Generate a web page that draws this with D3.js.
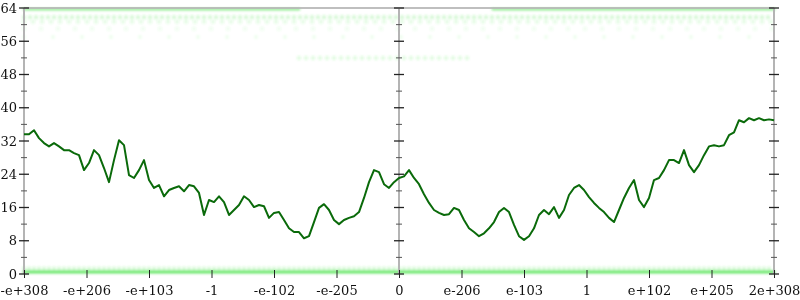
<!DOCTYPE html>
<html lang="en">
  <head>
    <meta charset="UTF-8" />
    <script src="https://d3js.org/d3.v7.min.js"></script>
    <style>
      body { margin: 0; background: #fff; }
      svg { display: block; }
      .tick text { font-family: "DejaVu Serif", serif; font-size: 13px; fill: #111; }
    </style>
  </head>
  <body>
    <div id="chart"></div>
    <script>
      // x labels (float64 bit-ordered axis), one per unit from -6 to 6
      var xLabels = ["-e+308", "-e+206", "-e+103", "-1", "-e-102", "-e-205", "0",
                     "e-206", "e-103", "1", "e+102", "e+205", "2e+308"];
      var yTicks = [0, 8, 16, 24, 32, 40, 48, 56, 64];

      // line sampled every 0.08 units from -6 to 6
      var lineValues = [
        33.6, 33.6, 34.6, 32.7, 31.5, 30.7, 31.5, 30.7, 29.8, 29.8,
        29.1, 28.6, 25.0, 26.7, 29.8, 28.6, 25.5, 22.1, 27.4, 32.2,
        31.0, 23.8, 23.1, 25.0, 27.4, 22.6, 20.7, 21.4, 18.7, 20.2,
        20.7, 21.1, 19.9, 21.4, 21.1, 19.5, 14.2, 17.8, 17.3, 18.7,
        17.3, 14.2, 15.4, 16.6, 18.7, 17.8, 16.1, 16.6, 16.3, 13.5,
        14.7, 14.9, 13.0, 11.0, 10.1, 10.1, 8.6, 9.1, 12.5, 15.9,
        16.8, 15.4, 13.0, 12.0, 13.0, 13.5, 13.9, 14.9, 18.3, 22.1,
        25.0, 24.5, 21.6, 20.7, 22.1, 23.1,
        23.5, 25.0, 23.1, 21.6, 19.2, 17.1, 15.4, 14.7, 14.2, 14.4,
        15.9, 15.4, 13.0, 11.0, 10.1, 9.1, 9.8, 11.0, 12.5, 14.9,
        15.9, 14.9, 11.8, 9.1, 8.2, 9.1, 11.0, 14.2, 15.4, 14.4,
        16.1, 13.5, 15.4, 19.0, 20.7, 21.4, 20.2, 18.5, 17.1, 15.9,
        14.9, 13.5, 12.5, 15.4, 18.3, 20.7, 22.6, 17.8, 16.1, 18.3,
        22.6, 23.1, 25.0, 27.4, 27.4, 26.7, 29.8, 26.2, 24.5, 26.2,
        28.6, 30.7, 31.0, 30.7, 31.0, 33.4, 34.1, 37.0, 36.5, 37.5,
        37.0, 37.5, 37.0, 37.2, 37.0
      ];
      var lineStep = 0.08;

      // faint point clouds: value level and x extent (units)
      var cloudLevel = [0.5, 1.3, 63.7, 63.7, 61.8, 60.7, 59.0, 57.0, 52.0];
      var cloudFrom  = [-6, -6, -6, 1.5, -6, -6, -6, -6, -1.6];
      var cloudTo    = [6, 6, -1.6, 6, 6, 6, 6, 6, 1.1];

      var width = 800, height = 300;
      var margin = { top: 8, right: 26, bottom: 26, left: 24 };

      var svg = d3.select("#chart").append("svg")
        .attr("width", width).attr("height", height);

      svg.append("defs").append("filter").attr("id", "soft")
        .append("feGaussianBlur").attr("stdDeviation", 0.8);

      var x = d3.scaleLinear().domain([-6, 6]).range([margin.left, width - margin.right]);
      var y = d3.scaleLinear().domain([0, 64]).range([height - margin.bottom, margin.top]);

      // point clouds
      var cloudOpacity = [0.75, 0.22, 0.55, 0.55, 0.2, 0.12, 0.08, 0.06, 0.14];
      var cloudWidth = [3, 4, 2.5, 2.5, 4.5, 4.5, 4.5, 4.5, 4.5];
      var cloudDash = ["none", "0,5", "none", "none", "0,6", "0,9", "0,17", "0,29", "0,7"];
      var clouds = svg.append("g").attr("filter", "url(#soft)");
      cloudLevel.forEach(function (lv, i) {
        clouds.append("line")
          .attr("x1", x(cloudFrom[i])).attr("x2", x(cloudTo[i]))
          .attr("y1", y(lv)).attr("y2", y(lv))
          .attr("stroke", "#3ee03e")
          .attr("stroke-width", cloudWidth[i])
          .attr("stroke-linecap", "round")
          .attr("stroke-dasharray", cloudDash[i])
          .attr("opacity", cloudOpacity[i]);
      });

      // top frame line
      svg.append("line")
        .attr("x1", x(-6)).attr("x2", x(6))
        .attr("y1", y(64)).attr("y2", y(64))
        .attr("stroke", "#b4b4b4").attr("stroke-width", 2)
        .attr("opacity", 0.85);

      // vertical axes (left, middle, right)
      [-6, 0, 6].forEach(function (pos) {
        var g = svg.append("g").attr("transform", "translate(" + x(pos) + ",0)");
        g.append("line")
          .attr("y1", y(64)).attr("y2", y(0))
          .attr("stroke", "#b4b4b4").attr("stroke-width", 2);
        d3.range(0, 65, 4).forEach(function (v) {
          var major = v % 8 === 0;
          g.append("line")
            .attr("x1", major ? -5 : -3).attr("x2", major ? 5 : 3)
            .attr("y1", y(v)).attr("y2", y(v))
            .attr("stroke", major ? "#222" : "#555")
            .attr("stroke-width", major ? 1.3 : 1);
        });
      });

      // y labels
      svg.append("g")
        .attr("transform", "translate(" + margin.left + ",0)")
        .call(d3.axisLeft(y).tickValues(yTicks).tickSize(0).tickPadding(7))
        .call(function (g) { g.select(".domain").remove(); });

      // x axis
      svg.append("g")
        .attr("transform", "translate(0," + y(0) + ")")
        .call(d3.axisBottom(x).tickValues(d3.range(-6, 7, 1)).tickSize(4)
          .tickPadding(8).tickFormat(function (d, i) { return xLabels[i]; }))
        .call(function (g) {
          g.select(".domain").remove();
          g.selectAll(".tick line").attr("y1", -4).attr("stroke", "#222");
        });

      // main line
      var line = d3.line()
        .x(function (d, i) { return x(-6 + i * lineStep); })
        .y(function (d) { return y(d); });
      svg.append("path")
        .datum(lineValues)
        .attr("fill", "none")
        .attr("stroke", "#0a6a0a")
        .attr("stroke-width", 2)
        .attr("stroke-linejoin", "round")
        .attr("d", line);
    </script>
  </body>
</html>
